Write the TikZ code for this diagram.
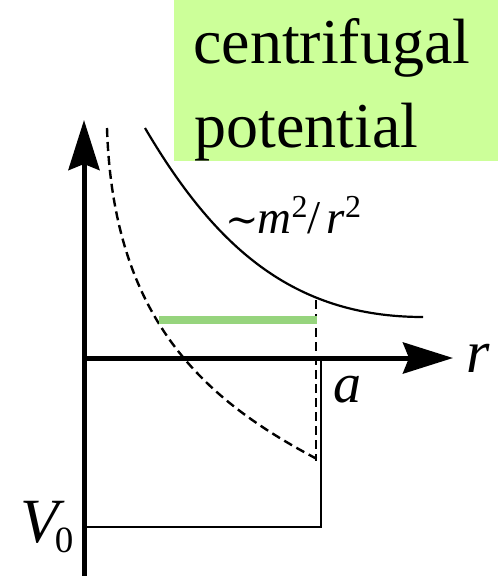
\documentclass[tikz,border=0pt]{standalone}
\usepackage{fontspec}
\newfontfamily\tms{Liberation Serif}
\newfontfamily\djv{DejaVu Serif}
\usetikzlibrary{arrows.meta,backgrounds}
\definecolor{boxgreen}{RGB}{204,255,153}
\definecolor{levelgreen}{RGB}{150,212,125}
\newcommand{\suptwo}{\raisebox{16pt}{\tms\fontsize{32}{32}\selectfont 2}}
\newcommand{\mystrut}[2]{\rule[-#2pt]{0pt}{\dimexpr#1pt+#2pt\relax}}
\begin{document}
\begin{tikzpicture}[x=1pt,y=-1pt,
  axis/.style={line width=5pt,-{Stealth[length=50pt,width=31pt,inset=6pt]}},
  thinline/.style={line width=2.5pt},
  curve/.style={line width=2.2pt},
  dcurve/.style={line width=2.4pt,dash pattern=on 9pt off 5pt},
  lbl/.style={anchor=west}]
\useasboundingbox (0,0) rectangle (498,576);
% coordinates
\coordinate (O) at (84,358);
\coordinate (ytop) at (84,120);
\coordinate (ybot) at (84,576);
\coordinate (xend) at (453,358);
\coordinate (wb) at (84,527);
\coordinate (wc) at (321,527);
\coordinate (wt) at (321,358);
\coordinate (vd1) at (316,300);
\coordinate (vd2) at (316,461);
\coordinate (g1) at (159,320);
\coordinate (g2) at (317,320);
\coordinate (d0) at (107,128);
\coordinate (d1) at (317,459);
\coordinate (c0) at (145,128);
\coordinate (c1) at (423,317);
% well
\draw[thinline] (wb) -- (wc) -- (wt);
% dashed effective potential
\draw[dcurve] (d0) .. controls (113,320) and (205,400) .. (d1);
\draw[dcurve] (vd1) -- (vd2);
% centrifugal potential
\draw[curve] (c0) .. controls (215,247) and (293,317) .. (c1);
% level
\draw[line width=8pt,levelgreen] (g1) -- (g2);
% axes
\draw[axis] (ybot) -- (ytop);
\draw[axis] (O) -- (xend);
% labels
\node[lbl] (t1) at (189.7,46) {\tms\fontsize{64}{77}\selectfont\mystrut{50}{16}centrifugal};
\node[lbl] (t2) at (190.7,130) {\tms\fontsize{64}{77}\selectfont\mystrut{50}{16}potential};
\node[lbl] (cl) at (221.7,215) {\tms\fontsize{47}{56}\selectfont\mystrut{42}{6}{\djv\fontsize{40}{40}\selectfont ∼}\kern-1pt\textit{m}\suptwo/\kern6pt\textit{r}\suptwo};
\node[lbl] (rl) at (462.7,357) {\tms\fontsize{60}{70}\selectfont\mystrut{40}{10}\textit{r}};
\node[lbl] (al) at (329.7,387) {\tms\fontsize{56}{66}\selectfont\mystrut{40}{10}\textit{a}};
\node[lbl] (vl) at (16.7,527) {\tms\fontsize{63}{74}\selectfont\mystrut{50}{20}\textit{V}\kern-10pt\raisebox{-10pt}{\fontsize{37}{37}\selectfont 0}};
\begin{scope}[on background layer]
\fill[boxgreen] (174,0) rectangle (498,161);
\end{scope}
\end{tikzpicture}
\end{document}
